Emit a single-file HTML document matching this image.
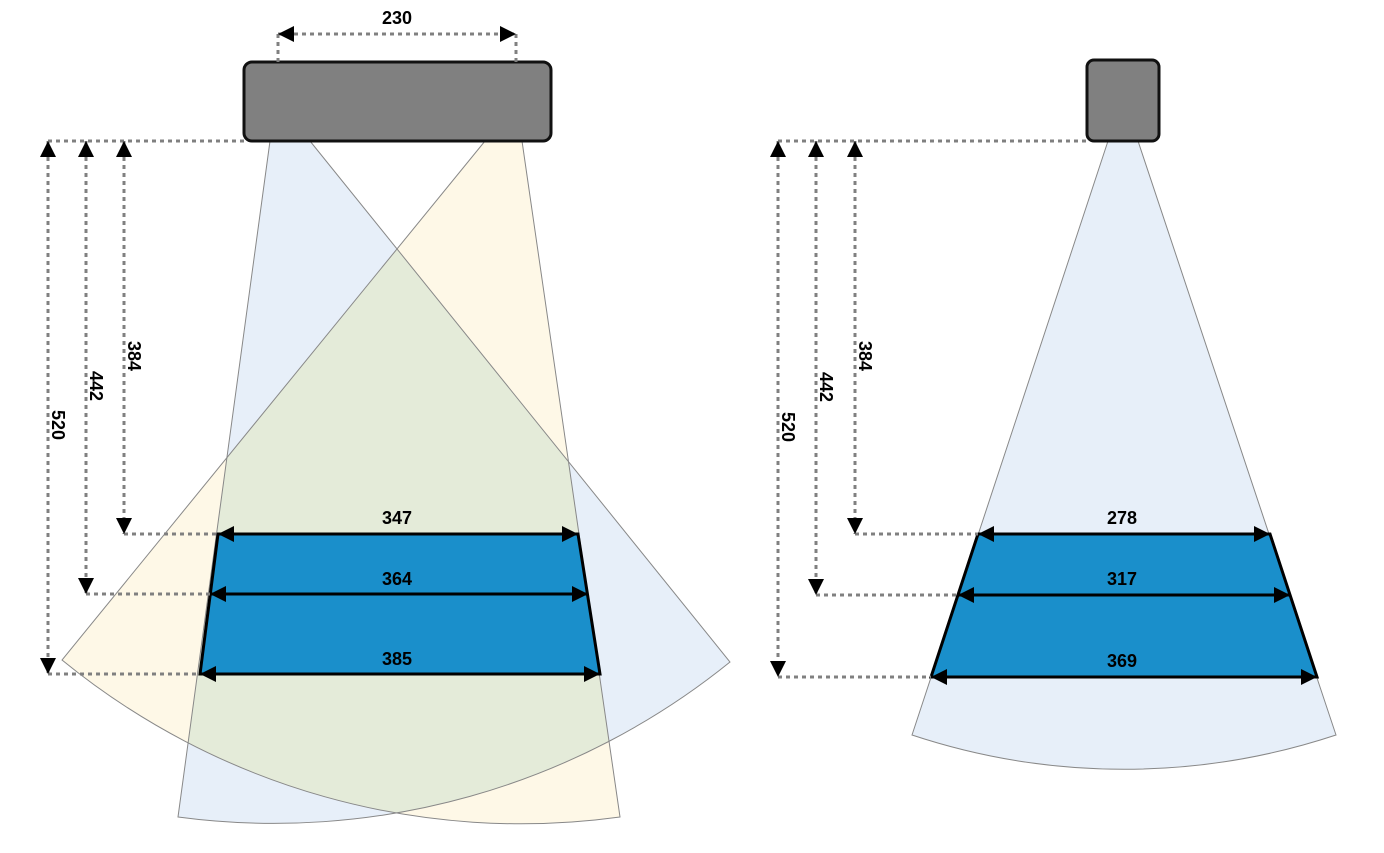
<!DOCTYPE html>
<html><head><style>
html,body{margin:0;padding:0;background:#fff;}
svg{display:block;}
text{font-family:"Liberation Sans",sans-serif;font-weight:bold;font-size:18px;fill:#000;}
</style></head><body>
<svg width="1384" height="853" viewBox="0 0 1384 853" xmlns="http://www.w3.org/2000/svg">
<defs>
<marker id="a" viewBox="0 0 10 10" refX="10" refY="5" markerWidth="17" markerHeight="16" markerUnits="userSpaceOnUse" orient="auto-start-reverse">
<path d="M0,0 L10,5 L0,10 z" fill="#000"/>
</marker>
<clipPath id="cb"><path d="M270,141 L178,817 A725,725 0 0 0 730,662 L310,141 Z"/></clipPath>
</defs>
<!-- left fans -->
<path d="M270,141 L178,817 A725,725 0 0 0 730,662 L310,141 Z" fill="#e7eff9"/>
<path d="M522,141 L620,817 A725,725 0 0 1 62,660 L485,141 Z" fill="#fef8e7"/>
<path d="M522,141 L620,817 A725,725 0 0 1 62,660 L485,141 Z" fill="#e4ebd9" clip-path="url(#cb)"/>
<path d="M270,141 L178,817 A725,725 0 0 0 730,662 L310,141 Z" fill="none" stroke="#888" stroke-width="1"/>
<path d="M522,141 L620,817 A725,725 0 0 1 62,660 L485,141 Z" fill="none" stroke="#888" stroke-width="1"/>
<!-- left device -->
<rect x="244" y="62" width="307" height="79" rx="8" fill="#808080" stroke="#111" stroke-width="3"/>
<!-- 230 dim -->
<g stroke="#808080" stroke-width="3" stroke-dasharray="4,4" fill="none">
<line x1="278" y1="34" x2="278" y2="62"/>
<line x1="516" y1="34" x2="516" y2="62"/>
</g>
<line x1="278" y1="34" x2="516" y2="34" stroke="#808080" stroke-width="3" stroke-dasharray="4,4" marker-start="url(#a)" marker-end="url(#a)"/>
<text x="397" y="24" text-anchor="middle">230</text>
<!-- left trapezoid -->
<path d="M218,534 L578,534 L600,674 L200,674 Z" fill="#1a8fcb" stroke="#000" stroke-width="3"/>
<g stroke="#000" stroke-width="3" marker-start="url(#a)" marker-end="url(#a)">
<line x1="218" y1="534" x2="578" y2="534"/>
<line x1="210" y1="594" x2="588" y2="594"/>
<line x1="200" y1="674" x2="600" y2="674"/>
</g>
<text x="397" y="524" text-anchor="middle">347</text>
<text x="397" y="585" text-anchor="middle">364</text>
<text x="397" y="665" text-anchor="middle">385</text>
<!-- left dashed -->
<g stroke="#808080" stroke-width="3" stroke-dasharray="4,4" fill="none">
<line x1="48" y1="141" x2="244" y2="141"/>
<line x1="48" y1="674" x2="200" y2="674"/>
<line x1="86" y1="594" x2="210" y2="594"/>
<line x1="124" y1="534" x2="218" y2="534"/>
</g>
<g stroke="#808080" stroke-width="3" stroke-dasharray="4,4" marker-start="url(#a)" marker-end="url(#a)">
<line x1="48" y1="141" x2="48" y2="674"/>
<line x1="86" y1="141" x2="86" y2="594"/>
<line x1="124" y1="141" x2="124" y2="534"/>
</g>
<text transform="translate(52,425) rotate(90)" text-anchor="middle">520</text>
<text transform="translate(90,386) rotate(90)" text-anchor="middle">442</text>
<text transform="translate(128,356) rotate(90)" text-anchor="middle">384</text>

<!-- right fan -->
<path d="M1108,141 L912,735 A673,673 0 0 0 1336,735 L1138,141 Z" fill="#e7eff9" stroke="#888" stroke-width="1"/>
<rect x="1087" y="60" width="72" height="81" rx="7" fill="#808080" stroke="#111" stroke-width="3"/>
<path d="M978,534 L1270,534 L1317,677 L931,677 Z" fill="#1a8fcb" stroke="#000" stroke-width="3"/>
<g stroke="#000" stroke-width="3" marker-start="url(#a)" marker-end="url(#a)">
<line x1="978" y1="534" x2="1270" y2="534"/>
<line x1="958" y1="595" x2="1290" y2="595"/>
<line x1="931" y1="677" x2="1317" y2="677"/>
</g>
<text x="1122" y="524" text-anchor="middle">278</text>
<text x="1122" y="585" text-anchor="middle">317</text>
<text x="1122" y="667" text-anchor="middle">369</text>
<g stroke="#808080" stroke-width="3" stroke-dasharray="4,4" fill="none">
<line x1="778" y1="141" x2="1087" y2="141"/>
<line x1="778" y1="677" x2="931" y2="677"/>
<line x1="816" y1="595" x2="958" y2="595"/>
<line x1="855" y1="534" x2="978" y2="534"/>
</g>
<g stroke="#808080" stroke-width="3" stroke-dasharray="4,4" marker-start="url(#a)" marker-end="url(#a)">
<line x1="778" y1="141" x2="778" y2="677"/>
<line x1="816" y1="141" x2="816" y2="595"/>
<line x1="855" y1="141" x2="855" y2="534"/>
</g>
<text transform="translate(782,427) rotate(90)" text-anchor="middle">520</text>
<text transform="translate(820,387) rotate(90)" text-anchor="middle">442</text>
<text transform="translate(859,356) rotate(90)" text-anchor="middle">384</text>
</svg>
</body></html>
